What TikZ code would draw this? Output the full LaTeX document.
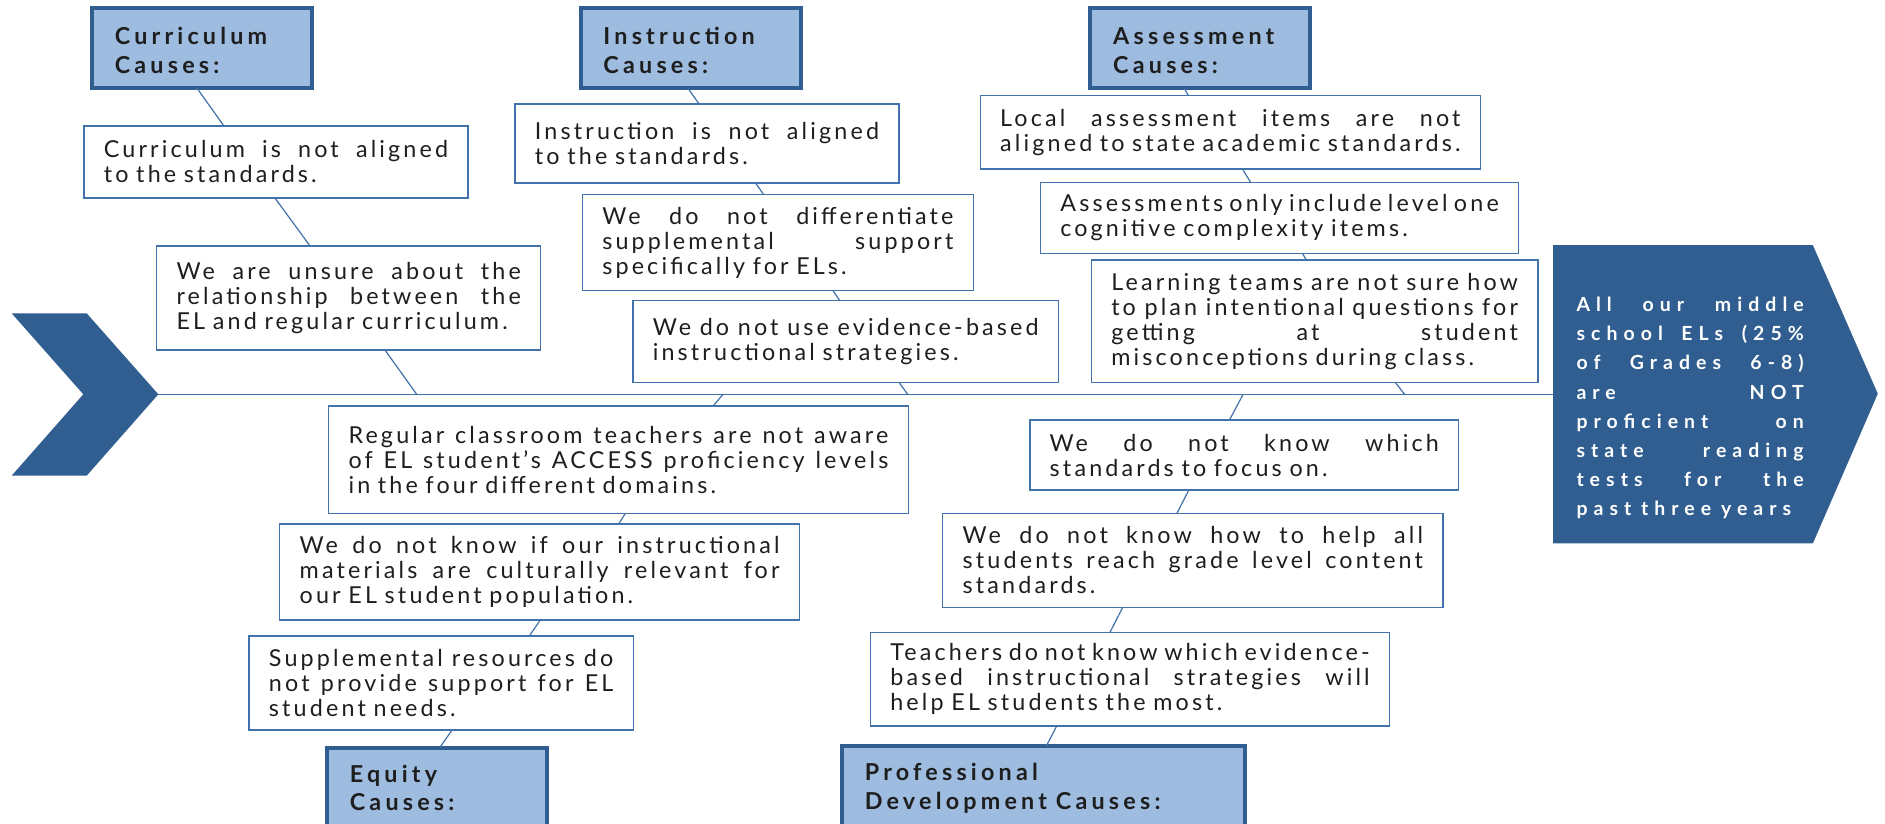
\documentclass[tikz,border=0pt]{standalone}
\usepackage{fontspec}
\setmainfont{Lato}
\newfontfamily\bodyfont[LetterSpace=13.5]{Lato}
\newfontfamily\titlefont[LetterSpace=18]{Lato}
\newfontfamily\resfont[LetterSpace=31]{Lato}
\usetikzlibrary{calc}
\definecolor{darkblue}{RGB}{48,94,145}
\definecolor{lightblue}{RGB}{158,187,224}
\definecolor{edgeblue}{RGB}{66,114,171}
\definecolor{txtcol}{RGB}{30,30,30}
\def\curw{10bp}
% one justified line: spaces stretch to fill the given width
\newcommand\jl[1]{\leavevmode\hbox to \curw{\advance\spaceskip by 0pt plus 1fil\relax #1}\\}
\newcommand\setspace[1]{\spaceskip=#1em plus 0.15em minus 0.08em\relax}
\newcommand\cbox[6]{%
  \pgfmathsetlengthmacro\curw{(#4-#2-33.2)*0.5bp}%
  \node[cause, minimum width={(#4-#2)*0.5bp}, minimum height={(#5-#3)*0.5bp},
        text width=\curw] (#1) at (#2,#3) {#6};}
\tikzset{
  cause/.style={draw=edgeblue, line width=0.6bp, fill=white, anchor=north west,
    outer sep=0pt, inner xsep=8.3bp, inner ysep=0pt, align=left, text=txtcol,
    font=\bodyfont\fontsize{9.7bp}{10.4bp}\selectfont,
    execute at begin node={\setspace{0.33}}},
  causetitle/.style={draw=darkblue, line width=1.7bp, fill=lightblue, anchor=north west,
    outer sep=0pt, inner xsep=9.5bp, inner ysep=0pt, align=left, text=txtcol,
    font=\titlefont\bfseries\fontsize{9.7bp}{11.8bp}\selectfont,
    execute at begin node={\setspace{0.38}}},
  toptitle/.style={causetitle, minimum width=91.5bp, text width=72.5bp,
    text height=15.2bp, text depth=17.8bp},
  bottitle/.style={causetitle, text height=14.5bp, text depth=35bp},
  conn/.style={draw=edgeblue, line width=0.5bp},
  spine/.style={draw=edgeblue, line width=0.6bp},
}
\begin{document}
\begin{tikzpicture}[x=0.5bp,y=-0.5bp]
\useasboundingbox (0,0) rectangle (1568,685);
\clip (0,0) rectangle (1568,685);

% chevron and result shape
\fill[darkblue] (9.7,260.6) -- (72.1,260.6) -- (131.7,328) -- (72.1,395.7)
  -- (9.7,395.7) -- (69.3,328) -- cycle;
\fill[darkblue] (1292,204) -- (1508,204) -- (1562,327.5) -- (1508,452)
  -- (1292,452) -- cycle;
\coordinate (tip) at (131.7,328);
\coordinate (head) at (1292,328);
\draw[spine] (tip) -- (head);

\coordinate (s1) at (346.6,328);
\coordinate (s2) at (755,328);
\coordinate (s3) at (1168.4,328);
\coordinate (s4) at (601.4,328);
\coordinate (s5) at (1034.1,328);

% title boxes
\node[toptitle] (tc) at (76.5,7) {Curriculum\\Causes:};
\node[toptitle] (ti) at (483,7) {Instruction\\Causes:};
\node[toptitle] (ta) at (907,7) {Assessment\\Causes:};
\node[bottitle, minimum width=91.5bp, text width=72.5bp] (te) at (272,622) {Equity\\Causes:};
\node[bottitle, minimum width=167.6bp, text width=148.6bp] (tp) at (700.4,620.5) {Professional\\Development Causes:};

% curriculum
\cbox{c1}{69.8}{104.8}{389.3}{164.7}{\jl{Curriculum is not aligned}to the standards.}
\cbox{c2}{130.3}{204.6}{449.8}{291.1}{\jl{We are unsure about the}\jl{relationship between the}EL and regular curriculum.}
% instruction
\cbox{i1}{428.4}{86.5}{747.8}{152.2}{\jl{Instruction is not aligned}to the standards.}
\cbox{i2}{484.4}{161.6}{809.7}{241.8}{\jl{We do not differentiate}\jl{supplemental support}specifically for ELs.}
\cbox{i3}{526.4}{250.1}{880.6}{318.3}{\jl{We do not use evidence-based}instructional strategies.}
% assessment
\cbox{a1}{815.4}{79.6}{1231.5}{140.6}{\jl{Local assessment items are not}aligned to state academic standards.}
\cbox{a2}{865.4}{152}{1263.3}{210.7}{\jl{Assessments only include level one}cognitive complexity items.}
\cbox{a3}{907.8}{216.3}{1279.3}{318.3}{\jl{Learning teams are not sure how}\jl{to plan intentional questions for}\jl{getting at student}misconceptions during class.}
% equity
\cbox{e1}{273.3}{337.7}{755.5}{427}{\jl{Regular classroom teachers are not aware}\jl{of EL student’s ACCESS proficiency levels}in the four different domains.}
\cbox{e2}{232.7}{435.9}{665}{515.7}{\jl{We do not know if our instructional}\jl{materials are culturally relevant for}our EL student population.}
\cbox{e3}{207.1}{529}{526.8}{607.2}{\jl{Supplemental resources do}\jl{not provide support for EL}student needs.}
% professional development
\cbox{p1}{856.6}{349.4}{1213.4}{407.6}{\jl{We do not know which}standards to focus on.}
\cbox{p2}{784.2}{427}{1200.3}{505.2}{\jl{We do not know how to help all}\jl{students reach grade level content}standards.}
\cbox{p3}{724}{526}{1155.9}{603.9}{\jl{Teachers do not know which evidence-}\jl{based instructional strategies will}help EL students the most.}

% result text
\def\curw{94.5bp}
\node[anchor=base west, inner sep=0pt, text width=\curw, align=left, text=white,
  font=\resfont\bfseries\fontsize{8.1bp}{12.1bp}\selectfont,
  execute at begin node={\setspace{0.5}}] (res) at (1311,259.3)
  {\jl{All our middle}\jl{school ELs (25\%}\jl{of Grades 6-8)}\jl{are NOT}\jl{proficient on}\jl{state reading}\jl{tests for the}past three years};

% connectors
\draw[conn] ($(tc.south west)+(87.1,0)$) -- ($(c1.north west)+(116.5,0)$);
\draw[conn] ($(c1.south west)+(158.9,0)$) -- ($(c2.north west)+(127.6,0)$);
\draw[conn] ($(c2.south west)+(189.9,0)$) -- (s1);
\draw[conn] ($(ti.south west)+(89,0)$) -- ($(i1.north west)+(153.1,0)$);
\draw[conn] ($(i1.south west)+(200.1,0)$) -- ($(i2.north west)+(150.6,0)$);
\draw[conn] ($(i2.south west)+(208.5,0)$) -- ($(i3.north west)+(172.2,0)$);
\draw[conn] ($(i3.south west)+(221.6,0)$) -- (s2);
\draw[conn] ($(ta.south west)+(77.8,0)$) -- ($(a1.north west)+(173.2,0)$);
\draw[conn] ($(a1.south west)+(218.1,0)$) -- ($(a2.north west)+(175.1,0)$);
\draw[conn] ($(a2.south west)+(218,0)$) -- ($(a3.north west)+(178.8,0)$);
\draw[conn] ($(a3.south west)+(253,0)$) -- (s3);
\draw[conn] (s4) -- ($(e1.north west)+(319.9,0)$);
\draw[conn] ($(e1.south west)+(246.9,0)$) -- ($(e2.north west)+(281.9,0)$);
\draw[conn] ($(e2.south west)+(216.8,0)$) -- ($(e3.north west)+(233.2,0)$);
\draw[conn] ($(e3.south west)+(169,0)$) -- ($(te.north west)+(93.7,0)$);
\draw[conn] (s5) -- ($(p1.north west)+(166.1,0)$);
\draw[conn] ($(p1.south west)+(132.3,0)$) -- ($(p2.north west)+(194.8,0)$);
\draw[conn] ($(p2.south west)+(149.7,0)$) -- ($(p3.north west)+(199.3,0)$);
\draw[conn] ($(p3.south west)+(155,0)$) -- ($(tp.north west)+(170,0)$);
\end{tikzpicture}
\end{document}
